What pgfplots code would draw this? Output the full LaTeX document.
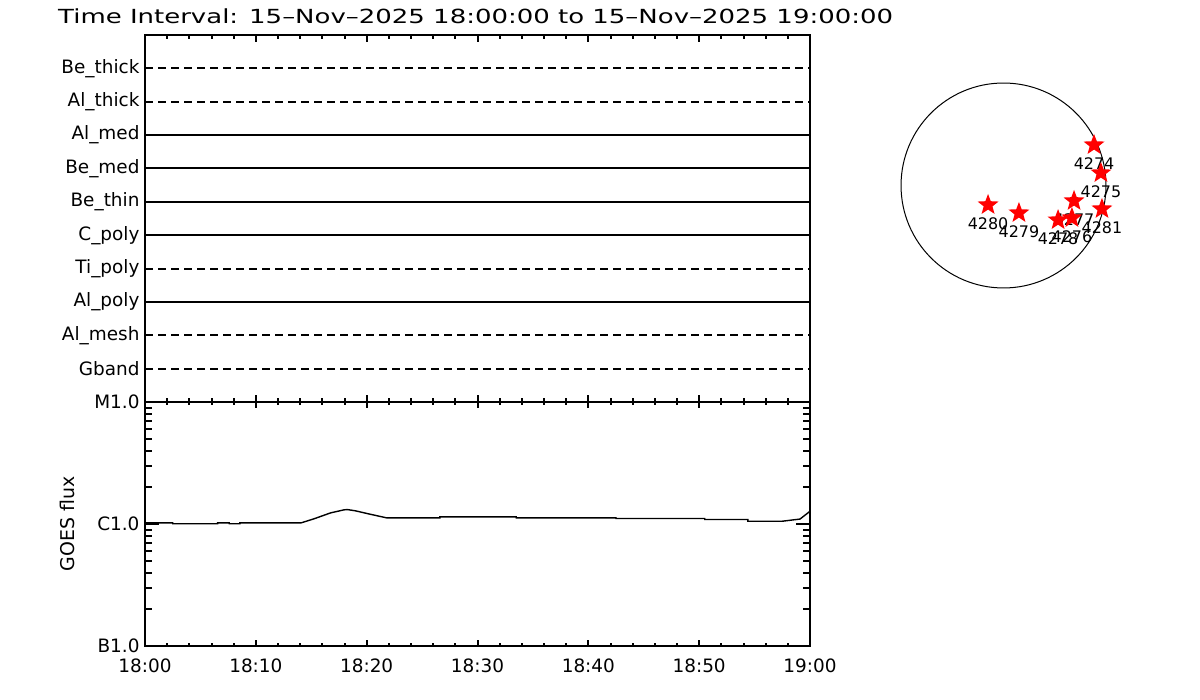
\documentclass[border=0pt]{standalone}
\usepackage{fontspec}
\setmainfont{DejaVu Sans}
\usepackage{graphicx}
\usepackage{pgfplots}
\usepackage{pgfplotstable}
\pgfplotsset{compat=1.18}

\pgfdeclareplotmark{fstar}{%
  \pgfpathmoveto{\pgfpointpolar{90}{\pgfplotmarksize}}%
  \pgfpathlineto{\pgfpointpolar{126}{0.42\pgfplotmarksize}}%
  \pgfpathlineto{\pgfpointpolar{162}{\pgfplotmarksize}}%
  \pgfpathlineto{\pgfpointpolar{198}{0.42\pgfplotmarksize}}%
  \pgfpathlineto{\pgfpointpolar{234}{\pgfplotmarksize}}%
  \pgfpathlineto{\pgfpointpolar{270}{0.42\pgfplotmarksize}}%
  \pgfpathlineto{\pgfpointpolar{306}{\pgfplotmarksize}}%
  \pgfpathlineto{\pgfpointpolar{342}{0.42\pgfplotmarksize}}%
  \pgfpathlineto{\pgfpointpolar{18}{\pgfplotmarksize}}%
  \pgfpathlineto{\pgfpointpolar{54}{0.42\pgfplotmarksize}}%
  \pgfpathclose
  \pgfusepathqfill
}

% GOES flux, time in minutes after 18:00
\pgfplotstableread{
t flux
0     1.023e-6
2.5   1.023e-6
2.5   1.004e-6
6.55  1.004e-6
6.55  1.023e-6
7.6   1.023e-6
7.6   1.004e-6
8.56  1.004e-6
8.56  1.023e-6
14.1  1.023e-6
15.25 1.103e-6
16.15 1.180e-6
16.75 1.234e-6
17.95 1.306e-6
18.25 1.314e-6
19.0  1.282e-6
20.05 1.218e-6
21.8  1.123e-6
26.6  1.123e-6
26.6  1.145e-6
33.5  1.145e-6
33.5  1.123e-6
42.5  1.123e-6
42.5  1.109e-6
50.5  1.109e-6
50.5  1.088e-6
54.4  1.088e-6
54.4  1.054e-6
57.5  1.054e-6
59.1  1.098e-6
60    1.272e-6
}\goes

% active regions, arcsec
\pgfplotstableread{
x y label
856 383 4274
921 118 4275
931 -222 4281
667 -146 4277
516 -327 4278
647 -307 4276
146 -260 4279
-146 -184 4280
}\regions

\begin{document}
\begin{tikzpicture}
\useasboundingbox (0,0) rectangle (1200bp,700bp);

\node[anchor=west, inner sep=0] at (58bp,684bp)
  {\resizebox{835bp}{\height}{\fontsize{19.5}{22}\selectfont Time Interval: 15–Nov–2025 18:00:00 to 15–Nov–2025 19:00:00}};

% filter panel
\begin{axis}[
  at={(145bp,298bp)}, anchor=south west,
  scale only axis, width=665bp, height=367bp,
  xmin=0, xmax=60, ymin=0, ymax=11,
  xtick={0,10,...,60}, xticklabels={},
  minor x tick num=4,
  ytick={1,...,10},
  yticklabels={Gband,Al\_mesh,Al\_poly,Ti\_poly,C\_poly,Be\_thin,Be\_med,Al\_med,Al\_thick,Be\_thick},
  ytick style={draw=none},
  tick align=inside,
  major tick length=7bp, minor tick length=4bp,
  axis line style={line width=2bp},
  tick style={line width=2bp, black},
  ticklabel style={font=\fontsize{18.5}{21}\selectfont},
  yticklabel style={xshift=-2bp},
  clip=false,
]
\addplot[line width=2bp, dash pattern=on 8bp off 5bp] coordinates {(0,10) (60,10)};
\addplot[line width=2bp, dash pattern=on 8bp off 5bp] coordinates {(0,9) (60,9)};
\addplot[line width=2bp] coordinates {(0,8) (60,8)};
\addplot[line width=2bp] coordinates {(0,7) (60,7)};
\addplot[line width=2bp] coordinates {(0,6) (60,6)};
\addplot[line width=2bp] coordinates {(0,5) (60,5)};
\addplot[line width=2bp, dash pattern=on 8bp off 5bp] coordinates {(0,4) (60,4)};
\addplot[line width=2bp] coordinates {(0,3) (60,3)};
\addplot[line width=2bp, dash pattern=on 8bp off 5bp] coordinates {(0,2) (60,2)};
\addplot[line width=2bp, dash pattern=on 8bp off 5bp] coordinates {(0,1) (60,1)};
\end{axis}

% GOES panel
\begin{axis}[
  at={(145bp,54bp)}, anchor=south west,
  scale only axis, width=665bp, height=244bp,
  xmin=0, xmax=60,
  ymode=log, ymin=1e-7, ymax=1e-5,
  xtick={0,10,...,60},
  xticklabels={18:00,18:10,18:20,18:30,18:40,18:50,19:00},
  minor x tick num=4,
  ytick={1e-7,1e-6,1e-5},
  yticklabels={B1.0,C1.0,M1.0},
  minor ytick={2e-7,3e-7,4e-7,5e-7,6e-7,7e-7,8e-7,9e-7,2e-6,3e-6,4e-6,5e-6,6e-6,7e-6,8e-6,9e-6},
  tick align=inside,
  xtick style={/pgfplots/major tick length=6bp, /pgfplots/minor tick length=3bp},
  ytick style={/pgfplots/major tick length=14bp, /pgfplots/minor tick length=7bp},
  axis line style={line width=2bp},
  tick style={line width=2bp, black},
  ticklabel style={font=\fontsize{18.5}{21}\selectfont},
  xticklabel style={yshift=-9bp},
  yticklabel style={xshift=-2bp},
  ylabel={GOES flux},
  ylabel style={at={(axis description cs:-0.1173,0.5)}, anchor=center, font=\fontsize{19}{22}\selectfont},
  clip=false,
]
\addplot[line width=1.4bp, black] table[x=t, y=flux] {\goes};
\end{axis}

% solar disk
\begin{axis}[
  at={(1003.5bp,514.5bp)}, anchor=center,
  scale only axis, width=264.4bp, height=264.4bp,
  xmin=-1250, xmax=1250, ymin=-1250, ymax=1250,
  hide axis, clip=false,
]
\draw[line width=1bp] (axis cs:0,0) circle[radius=969];
\addplot[only marks, mark=fstar, mark size=11bp, color=red,
  nodes near coords, point meta=explicit symbolic,
  every node near coord/.style={anchor=center, yshift=-19bp, text=black, inner sep=0pt, font=\fontsize{16}{18}\selectfont}]
  table[x=x, y=y, meta=label] {\regions};
\end{axis}
\end{tikzpicture}
\end{document}
